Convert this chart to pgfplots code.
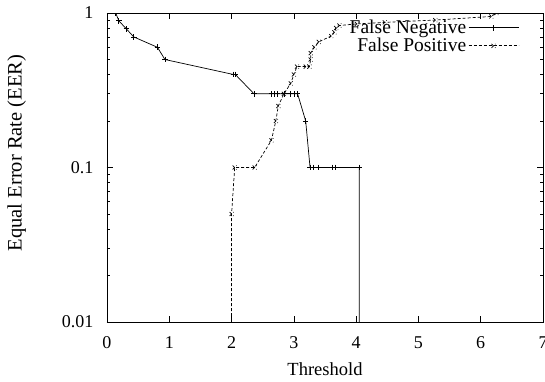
\documentclass[border=0pt]{standalone}
\usepackage{fontspec}
\setmainfont{Liberation Serif}
\usepackage{pgfplots}
\pgfplotsset{compat=1.18}
\begin{document}
\begin{tikzpicture}[font=\fontsize{17}{20}\selectfont]
\useasboundingbox (-107pt,-59pt) rectangle (438pt,322pt);
\begin{axis}[
  at={(0,0)}, anchor=south west,
  scale only axis, width=436pt, height=309pt,
  ymode=log, xmin=0, xmax=7, ymin=0.01, ymax=1,
  xtick={0,1,2,3,4,5,6,7},
  ytick={0.01,0.1,1}, yticklabels={0.01,0.1,1},
  /pgf/number format/assume math mode=true,
  tick label style={font=\fontsize{18}{20}\selectfont},
  yticklabel style={xshift=-10pt},
  xticklabel style={yshift=-11pt},
  tick align=inside, major tick length=6pt, minor tick length=3.5pt,
  tick style={black, line width=0.6pt},
  axis line style={line width=0.8pt},
  xlabel={Threshold}, ylabel={Equal Error Rate (EER)},
  xlabel style={at={(axis description cs:0.5,0)}, yshift=-47pt, anchor=center,
    font=\fontsize{18.5}{20}\selectfont},
  ylabel style={at={(axis description cs:-0.207,0.547)}, anchor=center,
    font=\fontsize{20.5}{22}\selectfont},
  clip marker paths=true,
  legend style={draw=none, fill=none, at={(0.952,0.99)}, anchor=north east,
    font=\fontsize{19.5}{21}\selectfont, row sep=-1pt},
  legend cell align=right, legend plot pos=right,
  legend image code/.code={\draw[mark repeat=2,mark phase=2,#1] plot coordinates {(0pt,0pt) (25pt,0pt) (50pt,0pt)};},
  every axis plot/.append style={line width=0.7pt, mark size=2.8pt},
]
\addplot[black, mark=+] coordinates {
(0.14,1.0) (0.19,0.89) (0.31,0.79) (0.43,0.70) (0.81,0.60) (0.93,0.50)
(2.03,0.40) (2.06,0.40) (2.36,0.30) (2.64,0.30) (2.69,0.30) (2.74,0.30)
(2.84,0.30) (2.94,0.30) (3.00,0.30) (3.06,0.30) (3.19,0.20) (3.26,0.10)
(3.32,0.10) (3.39,0.10) (3.62,0.10) (3.67,0.10) (4.05,0.10) (4.05,0.0001)
};
\addlegendentry{False Negative}
\addplot[black, mark=x, densely dashed] coordinates {
(2.00,0.0001) (2.00,0.05) (2.05,0.10) (2.37,0.10) (2.64,0.15) (2.71,0.20)
(2.75,0.25) (2.84,0.30) (2.95,0.35) (3.00,0.40) (3.05,0.45) (3.19,0.45)
(3.25,0.45) (3.27,0.50) (3.27,0.55) (3.33,0.60) (3.40,0.65) (3.60,0.71)
(3.65,0.75) (3.68,0.80) (3.73,0.83) (4.01,0.85) (4.46,0.87) (5.27,0.90)
(6.17,0.95) (6.25,1.0)
};
\addlegendentry{False Positive}
\end{axis}
\end{tikzpicture}
\end{document}
